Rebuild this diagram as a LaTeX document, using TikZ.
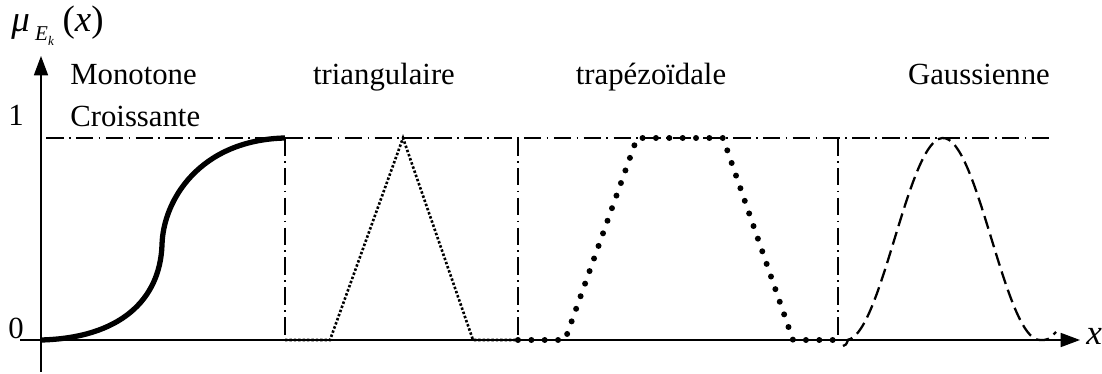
\documentclass[tikz,border=0pt]{standalone}
\usepackage{fontspec}
\setmainfont{Liberation Serif}
\usetikzlibrary{arrows.meta}

\begin{document}
\begin{tikzpicture}[x=0.02cm,y=-0.02cm,
    lbl/.style={font=\fontsize{17.5}{20}\selectfont,inner sep=0pt},
    axis/.style={line width=0.8pt,-{Triangle[length=11pt,width=8pt]}},
    level/.style={line width=0.8pt,dash pattern=on 10pt off 3pt on 1pt off 3pt}]
    \useasboundingbox (0,0) rectangle (1102,374);
    % axes
    \coordinate (xstart) at (20,340);
    \coordinate (xend) at (1080,340);
    \coordinate (ystart) at (41,372);
    \coordinate (yend) at (41,56);
    \draw[axis] (xstart) -- (xend);
    \draw[axis] (ystart) -- (yend);
    \node[lbl,anchor=west,font=\fontsize{20}{22}\selectfont] (xlab) at (1086,336) {\itshape x};
    \node[lbl,anchor=base west,font=\fontsize{21}{24}\selectfont] (ylab) at (11,32)
      {\itshape μ\hspace{3pt}\raisebox{-5pt}{\fontsize{12}{13}\selectfont E\raisebox{-2.5pt}{\fontsize{7.5}{8}\selectfont k}}\hspace{5pt}\upshape(\itshape x\upshape)};
    \node[lbl,anchor=base] (one) at (16,126) {1};
    \node[lbl,anchor=base] (zero) at (16,339) {0};
    % titles
    \node[lbl,anchor=base west] (mono) at (70,85) {Monotone};
    \node[lbl,anchor=base west] (crois) at (70,127) {Croissante};
    \node[lbl,anchor=base] (tri) at (384,85) {triangulaire};
    \node[lbl,anchor=base] (trap) at (651,85) {trapézoïdale};
    \node[lbl,anchor=base] (gauss) at (979,85) {Gaussienne};
    % level 1 and separators
    \coordinate (l0) at (46,138);
    \coordinate (l1) at (1052,138);
    \draw[level] (l0) -- (l1);
    \foreach \s in {285,518,838}
      \draw[level] (\s,138) -- (\s,340);
    % monotone croissante
    \draw[line width=3pt] (41,340) .. controls (120,338) and (160,300) .. (162,245)
      .. controls (163,200) and (200,140) .. (285,138);
    % triangulaire
    \draw[line width=1.5pt,dash pattern=on 1.4pt off 1.1pt] (285,340) -- (330,340) -- (403,138) -- (473,340) -- (518,340);
    % trapezoidale
    \draw[line width=3.4pt,line cap=round,dash pattern=on 0pt off 7.6pt] (518,340) -- (565,340) -- (637,138) -- (723,138) -- (793,340) -- (833,340);
    % gaussienne
    \draw[line width=1.3pt,dash pattern=on 7.5pt off 3.5pt] (843,346) .. controls (846,345) .. (848,340)
      -- plot[domain=848:1040,samples=60,smooth] (\x,{340-101*(1+cos(1.8557*(\x-943)))})
      .. controls (1048,340) .. (1056,332);
\end{tikzpicture}
\end{document}
